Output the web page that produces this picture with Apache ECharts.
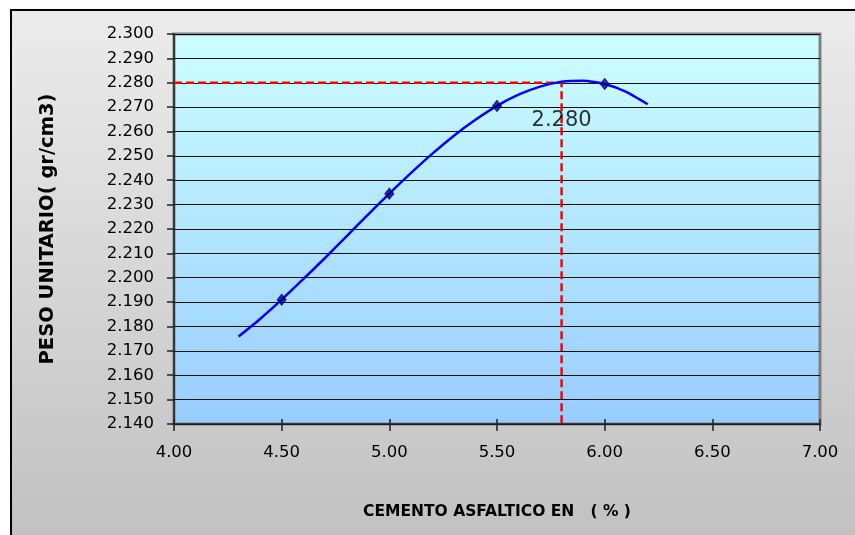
<!DOCTYPE html>
<html><head><meta charset="utf-8">
<script src="https://cdn.jsdelivr.net/npm/echarts@6/dist/echarts.min.js"></script>
<style>html,body{margin:0;padding:0;background:#fff}#c{width:855px;height:535px}</style>
</head><body><div id="c"></div>
<script>
// Measured points (diamonds)
const pointsX = [4.5, 5.0, 5.5, 6.0];
const pointsY = [2.191, 2.2345, 2.2705, 2.2795];
// Trend curve
const curveX = [4.3, 4.4, 4.5, 4.6, 4.7, 4.8, 4.9, 5.0, 5.1, 5.2, 5.3, 5.4, 5.5, 5.6, 5.7, 5.8, 5.9, 6.0, 6.1, 6.2];
const curveY = [2.1759, 2.1831, 2.191, 2.1994, 2.2080, 2.2169, 2.2258, 2.2345, 2.2429, 2.2509, 2.2583, 2.2648, 2.2705, 2.2751, 2.2784, 2.2804, 2.2808, 2.2795, 2.2763, 2.2712];
// Reference (optimum) dashed line
const refX = [4.0, 5.8, 5.8];
const refY = [2.28, 2.28, 2.14];
const refLabel = '2.280';
// Axes
const xTitle = 'CEMENTO ASFALTICO EN   ( % )';
const yTitle = 'PESO UNITARIO( gr/cm3)';

const zip = (a, b) => a.map((v, i) => [v, b[i]]);
const chart = echarts.init(document.getElementById('c'), null, {renderer: 'canvas'});
const font = 'DejaVu Sans';
chart.setOption({
  animation: false,
  graphic: [{
    type: 'rect', z: -10, silent: true,
    shape: {x: 11, y: 10, width: 860, height: 540},
    style: {
      fill: {type: 'linear', x: 0, y: 0, x2: 0, y2: 1, colorStops: [
        {offset: 0, color: '#ececec'}, {offset: 1, color: '#c0c0c0'}]},
      stroke: '#000', lineWidth: 2
    }
  }],
  grid: {
    left: 174, right: 35, top: 34, bottom: 111, show: true,
    backgroundColor: {type: 'linear', x: 0, y: 0, x2: 0, y2: 1, colorStops: [
      {offset: 0, color: '#ccffff'}, {offset: 1, color: '#99ccff'}]},
    borderColor: '#808080', borderWidth: 3
  },
  xAxis: [{
    type: 'value', min: 4, max: 7, interval: 0.5,
    name: xTitle, nameLocation: 'middle', nameGap: 80,
    nameTextStyle: {fontFamily: font, fontWeight: 'bold', fontSize: 15.5, color: '#000'},
    axisLine: {lineStyle: {color: '#222', width: 1.5}},
    axisTick: {show: true, length: 7, lineStyle: {color: '#222', width: 1.5}},
    axisLabel: {margin: 20, fontFamily: font, fontSize: 16.5, color: '#000', formatter: v => v.toFixed(2)},
    splitLine: {show: false}
  }, {
    type: 'value', min: 4, max: 7, interval: 0.5, position: 'bottom',
    axisLine: {show: false},
    axisTick: {show: true, inside: true, length: 5, lineStyle: {color: '#222', width: 1.5}},
    axisLabel: {show: false}, splitLine: {show: false}
  }],
  yAxis: {
    type: 'value', min: 2.14, max: 2.30, interval: 0.01,
    name: yTitle, nameLocation: 'middle', nameGap: 116, nameRotate: 90,
    nameTextStyle: {fontFamily: font, fontWeight: 'bold', fontSize: 19.5, color: '#000'},
    axisLine: {show: true, lineStyle: {color: '#222', width: 1.5}},
    axisTick: {show: true, length: 7, lineStyle: {color: '#222', width: 1.5}},
    axisLabel: {margin: 20, fontFamily: font, fontSize: 16.5, color: '#000', formatter: v => v.toFixed(3)},
    splitLine: {show: true, lineStyle: {color: '#111', width: 1}}
  },
  series: [{
    type: 'line', data: zip(refX, refY), symbol: 'none',
    lineStyle: {color: '#ff0000', width: 2.5, type: [8, 4]}, z: 3
  }, {
    type: 'scatter', data: [[refX[1], refY[1]]], symbolSize: 0, z: 6,
    label: {show: true, position: 'bottom', distance: 27, formatter: refLabel,
      fontFamily: font, fontSize: 21, color: '#000'}
  }, {
    type: 'line', data: zip(curveX, curveY), symbol: 'none', smooth: 0.2,
    lineStyle: {color: '#0000ff', width: 2.5}, z: 4
  }, {
    type: 'scatter', data: zip(pointsX, pointsY), symbol: 'diamond', symbolSize: [9, 11],
    itemStyle: {color: '#00008b', borderColor: '#000060', borderWidth: 1}, z: 5
  }]
});
</script></body></html>
